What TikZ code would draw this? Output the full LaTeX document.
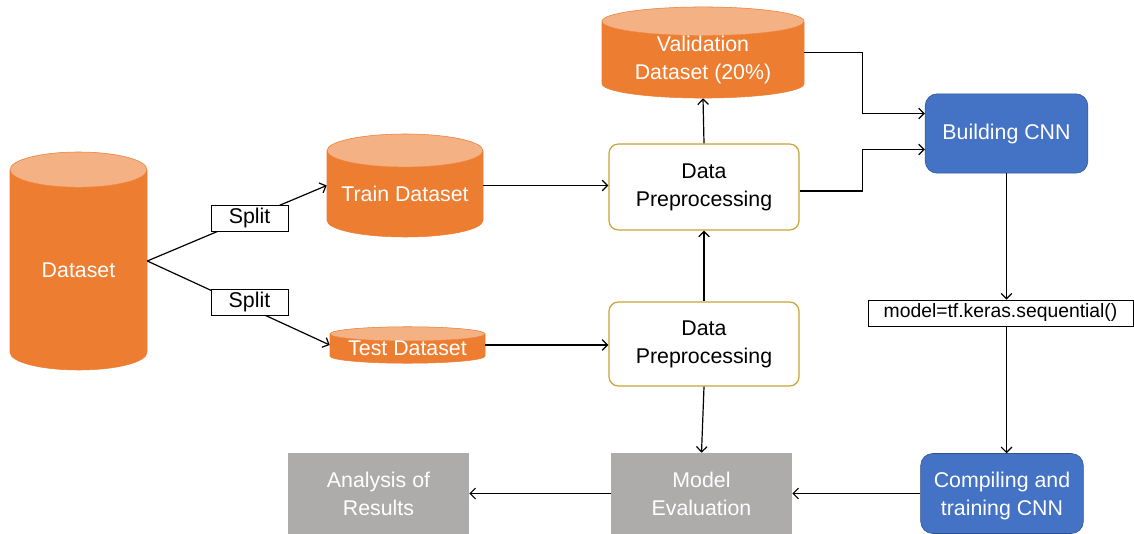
\documentclass[tikz,border=0pt]{standalone}
\usepackage{fontspec}
\setmainfont{Liberation Sans}
\usetikzlibrary{arrows.meta,positioning,shapes.geometric}

\definecolor{dsorange}{HTML}{ED7D31}
\definecolor{dstop}{HTML}{F4B183}
\definecolor{cnnblue}{HTML}{4472C4}
\definecolor{cnnedge}{HTML}{2F528F}
\definecolor{prepedge}{HTML}{C9A234}
\definecolor{resgray}{HTML}{AEABAB}

\begin{document}
\begin{tikzpicture}[x=0.75pt,y=-0.75pt,
  font=\fontsize{16}{21}\selectfont,
  db/.style={cylinder,shape border rotate=90,cylinder uses custom fill,
    cylinder body fill=dsorange,cylinder end fill=dstop,draw=dsorange,
    text=white,align=center,inner sep=0pt,anchor=shape center},
  prep/.style={draw=prepedge,line width=0.9pt,rounded corners=7pt,fill=white,
    align=center,minimum width=142.5pt,inner sep=0pt},
  cnn/.style={draw=cnnedge,fill=cnnblue,rounded corners=9pt,text=white,
    align=center,minimum width=122pt,minimum height=59.5pt,inner sep=0pt},
  res/.style={fill=resgray,text=white,align=center,minimum width=135.75pt,
    minimum height=60.75pt,inner sep=0pt},
  tag/.style={draw,line width=0.6pt,fill=white,inner sep=0pt,minimum height=19.5pt},
  arr/.style={-{Straight Barb[length=4pt,width=8pt]},line width=0.9pt}
]
\useasboundingbox (0,0) rectangle (1134,534);

% data stores
\node[db,minimum width=102.75pt,minimum height=163.5pt,aspect=0.48] (dataset) at (78.5,261) {Dataset};
\node[db,minimum width=117pt,minimum height=77.25pt,aspect=0.26] (train) at (405,185.5) {Train Dataset};
\node[db,minimum width=116.25pt,minimum height=27pt,aspect=0.12] (test) at (407.5,345) {Test Dataset};
\node[db,minimum width=151.5pt,minimum height=63.75pt,aspect=0.21] (valid) at (703,52.5) {Validation\\Dataset (20\%)};

% processing
\node[prep,minimum height=64.5pt] (prep1) at (704,187) {Data\\Preprocessing};
\node[prep,minimum height=63pt] (prep2) at (704,344) {Data\\Preprocessing};
\node[cnn] (build) at (1006.5,133.5) {Building CNN};
\node[tag,minimum width=198.75pt,font=\fontsize{14.5}{17}\selectfont] (model) at (1000.5,313) {model=tf.keras.sequential()};
\node[cnn,minimum height=60pt] (compile) at (1002,493.5) {\strut Compiling and\\training CNN};
\node[res] (eval) at (701.5,493.5) {Model\\Evaluation};
\node[res] (result) at (378.5,493.5) {Analysis of\\Results};

% flow
\draw[arr] (dataset.shape center -| dataset.east) -- node[tag,pos=0.57,minimum width=57.75pt]{Split} (train.shape center -| train.west);
\draw[arr] (dataset.shape center -| dataset.east) -- node[tag,pos=0.56,yshift=4.5pt,minimum width=57.75pt]{Split} (test.shape center -| test.west);
\draw[arr] (train.shape center -| train.east) -- (train.shape center -| prep1.west);
\draw[arr] (test.shape center -| test.east) -- (test.shape center -| prep2.west);
\draw[arr] (prep1.north) -- (valid.south);
\draw[arr] (prep2.north) -- (prep1.south);
\draw[arr] (prep2.south) -- (eval.north);
\draw[arr] (valid.shape center -| valid.east) -- ++(58,0) |- ([yshift=15pt]build.west);
\draw[arr] ([yshift=-3pt]prep1.east) -- ++(63,0) |- ([yshift=-12pt]build.west);
\draw[arr] (build.south) -- (build.south |- model.north);
\draw[arr] (build.south |- model.south) -- (build.south |- compile.north);
\draw[arr] (compile.west) -- (eval.east);
\draw[arr] (eval.west) -- (result.east);
\end{tikzpicture}
\end{document}
